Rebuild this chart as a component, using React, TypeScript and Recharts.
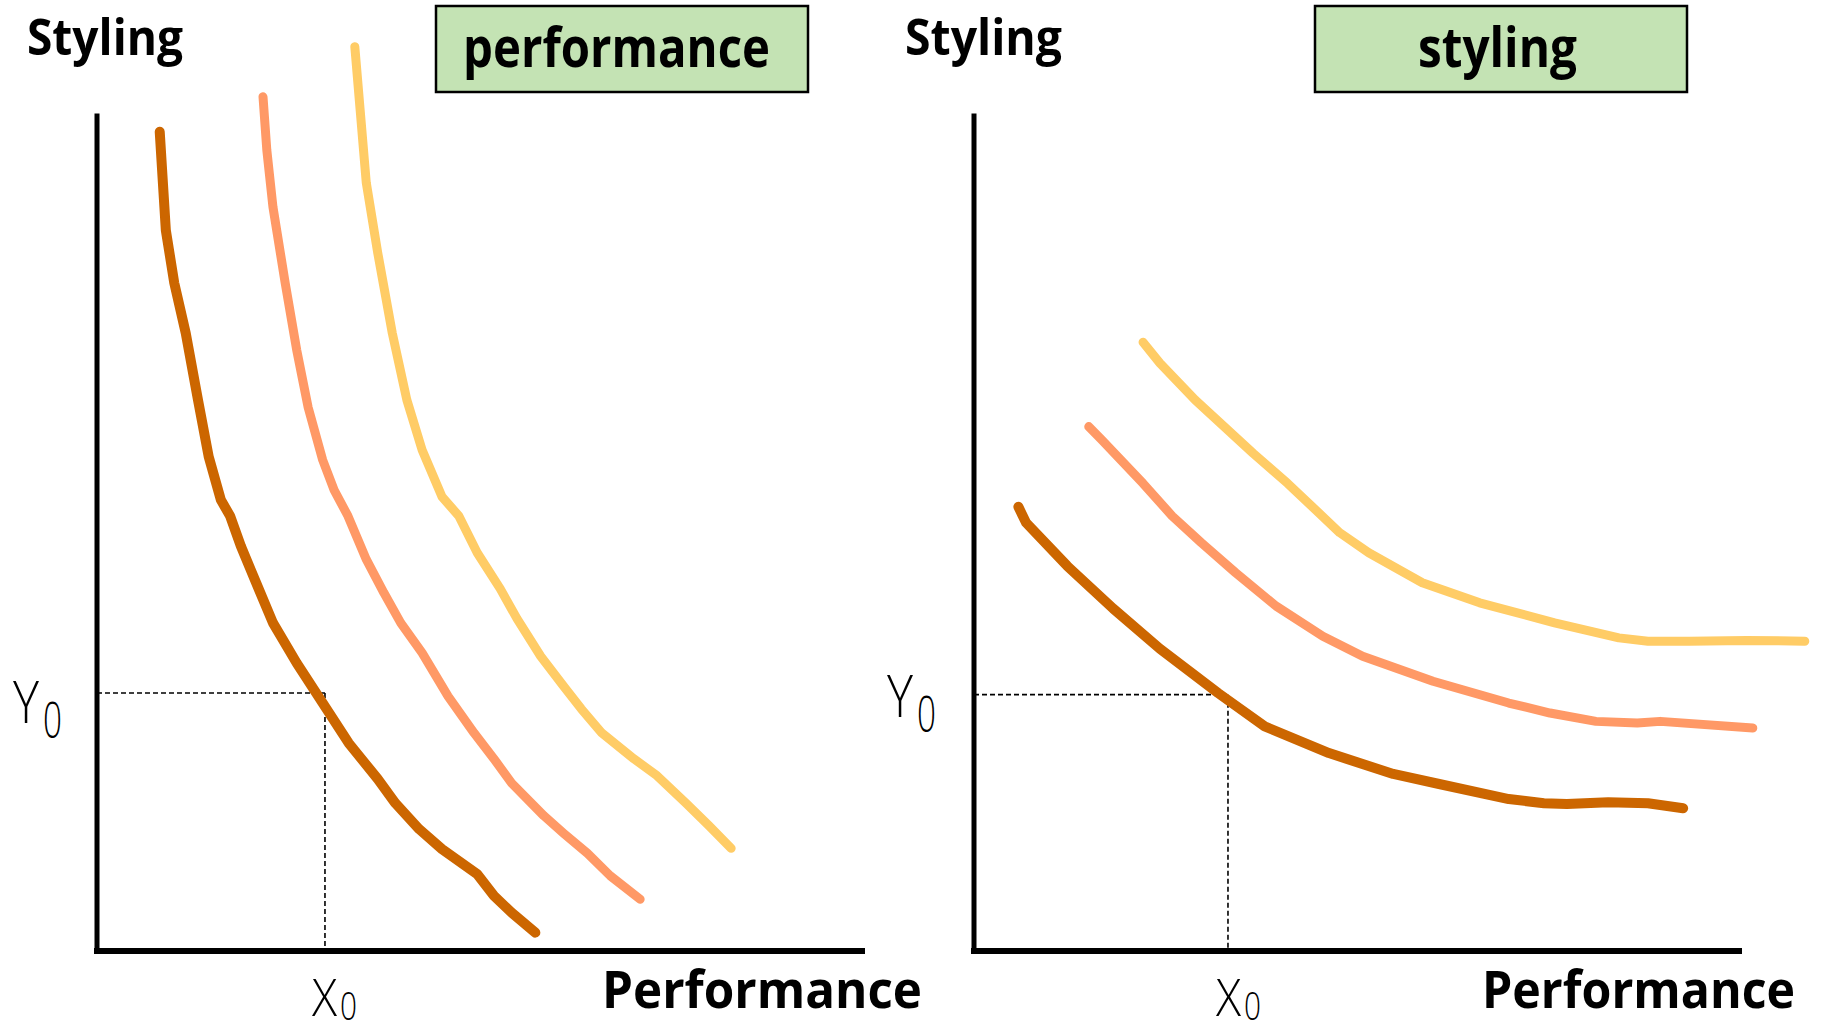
import { LineChart, Line, XAxis, YAxis, ReferenceLine, Customized } from "recharts";

// units: x = performance (0..10 along axis), y = styling (0..10 along axis)
// left panel, labelled "performance"
const perfLow = [
  [0.82, 9.81], [0.9, 8.63], [1.01, 8.0], [1.16, 7.4], [1.32, 6.6], [1.46, 5.92], [1.62, 5.4],
  [1.74, 5.21], [1.88, 4.85], [2.08, 4.41], [2.3, 3.93], [2.61, 3.45], [2.95, 2.97], [3.29, 2.49],
  [3.67, 2.06], [3.9, 1.77], [4.21, 1.46], [4.51, 1.22], [4.97, 0.92], [5.19, 0.66], [5.42, 0.46], [5.73, 0.22],
];
const perfMid = [
  [2.17, 10.23], [2.22, 9.59], [2.3, 8.91], [2.46, 8.0], [2.61, 7.2], [2.76, 6.51], [2.95, 5.88],
  [3.1, 5.52], [3.28, 5.21], [3.52, 4.69], [3.75, 4.29], [3.97, 3.93], [4.25, 3.57], [4.59, 3.05],
  [4.93, 2.61], [5.19, 2.3], [5.42, 2.01], [5.84, 1.62], [6.1, 1.41], [6.41, 1.17], [6.71, 0.9], [7.1, 0.62],
];
const perfHigh = [
  [3.37, 10.83], [3.44, 10.07], [3.52, 9.2], [3.67, 8.36], [3.86, 7.4], [4.05, 6.6], [4.25, 6.0],
  [4.51, 5.44], [4.73, 5.21], [4.97, 4.77], [5.27, 4.34], [5.49, 3.98], [5.8, 3.53], [6.1, 3.17],
  [6.33, 2.9], [6.6, 2.61], [7.02, 2.3], [7.32, 2.1], [7.7, 1.77], [8.0, 1.5], [8.29, 1.23],
];
const perfX0 = 2.98;
const perfY0 = 3.09;

// right panel, labelled "styling"
const styleLow = [
  [0.58, 5.32], [0.68, 5.13], [1.22, 4.61], [1.82, 4.1], [2.43, 3.62], [3.19, 3.09], [3.8, 2.69],
  [4.64, 2.37], [5.48, 2.12], [6.08, 2.0], [6.99, 1.82], [7.45, 1.77], [7.75, 1.76], [8.29, 1.78],
  [8.81, 1.77], [9.27, 1.71],
];
const styleMid = [
  [1.5, 6.28], [1.67, 6.12], [2.21, 5.6], [2.59, 5.21], [2.97, 4.89], [3.42, 4.53], [3.95, 4.13],
  [4.56, 3.77], [5.08, 3.53], [5.54, 3.38], [6.0, 3.23], [6.99, 2.97], [7.53, 2.85], [8.13, 2.75],
  [8.67, 2.73], [8.97, 2.75], [10.18, 2.67],
];
const styleHigh = [
  [2.21, 7.29], [2.43, 7.04], [2.89, 6.6], [3.27, 6.28], [3.65, 5.96], [4.1, 5.6], [4.55, 5.21],
  [4.78, 5.01], [5.16, 4.77], [5.86, 4.41], [6.61, 4.17], [7.59, 3.93], [8.43, 3.75], [8.81, 3.71],
  [9.35, 3.71], [10.1, 3.72], [10.86, 3.71],
];
const styleX0 = 3.32;
const styleY0 = 3.07;

const colors = ["#CC6600", "#FF9966", "#FFCC66"];
const widths = [10, 9, 9];

const toPoints = (arr: number[][]) => arr.map(([x, y]) => ({ x, y }));

const boldFont = "'Open Sans', 'DejaVu Sans', sans-serif";
const thinFont = "'Open Sans', sans-serif";

type LabelPos = {
  styling: number;
  stylingLen: number;
  boxX: number;
  boxText: string;
  boxTextX: number;
  boxTextLen: number;
  yX: number;
  yBase: number;
  xX: number;
  perfX: number;
  perfLen: number;
};

function Labels({ p }: { p: LabelPos }) {
  return (
    <g>
      <text x={p.styling} y={55} fontFamily={boldFont} fontWeight={700} fontSize={51} textLength={p.stylingLen} lengthAdjust="spacingAndGlyphs">
        Styling
      </text>
      <rect x={p.boxX} y={6} width={372} height={86} fill="#C4E3B4" stroke="#000" strokeWidth={2.5} />
      <text x={p.boxTextX} y={67} fontFamily={boldFont} fontWeight={700} fontSize={55} textLength={p.boxTextLen} lengthAdjust="spacingAndGlyphs">
        {p.boxText}
      </text>
      <text x={p.yX} y={p.yBase} fontFamily={thinFont} fontWeight={300} fontSize={59} textLength={26} lengthAdjust="spacingAndGlyphs">
        Y
      </text>
      <text x={p.yX + 30} y={p.yBase + 15} fontFamily={thinFont} fontWeight={300} fontSize={49} textLength={19} lengthAdjust="spacingAndGlyphs">
        0
      </text>
      <text x={p.xX} y={1016} fontFamily={thinFont} fontWeight={300} fontSize={51} textLength={25} lengthAdjust="spacingAndGlyphs">
        X
      </text>
      <text x={p.xX + 28} y={1020} fontFamily={thinFont} fontWeight={300} fontSize={39} textLength={17} lengthAdjust="spacingAndGlyphs">
        0
      </text>
      <text x={p.perfX} y={1008} fontFamily={boldFont} fontWeight={700} fontSize={52} textLength={p.perfLen} lengthAdjust="spacingAndGlyphs">
        Performance
      </text>
    </g>
  );
}

function Panel({
  curves,
  x0,
  y0,
  width,
  left,
  labels,
}: {
  curves: number[][][];
  x0: number;
  y0: number;
  width: number;
  left: number;
  labels: LabelPos;
}) {
  const plotW = 841.5;
  return (
    <LineChart width={width} height={1032} margin={{ top: 32.5, bottom: 81, left, right: width - left - plotW }}>
      <XAxis type="number" dataKey="x" domain={[0, 11]} allowDataOverflow hide />
      <YAxis type="number" dataKey="y" domain={[0, 11]} allowDataOverflow hide />
      <Customized component={<Labels p={labels} />} />
      <ReferenceLine segment={[{ x: 0, y: y0 }, { x: x0, y: y0 }]} stroke="#000" strokeWidth={1.6} strokeDasharray="5 3" ifOverflow="visible" />
      <ReferenceLine segment={[{ x: x0, y: y0 }, { x: x0, y: 0 }]} stroke="#000" strokeWidth={1.6} strokeDasharray="5 3" ifOverflow="visible" />
      <ReferenceLine segment={[{ x: 0, y: 0 }, { x: 0, y: 10 }]} stroke="#000" strokeWidth={5} strokeLinecap="square" ifOverflow="visible" />
      <ReferenceLine segment={[{ x: 0, y: 0 }, { x: 10, y: 0 }]} stroke="#000" strokeWidth={6} strokeLinecap="square" ifOverflow="visible" />
      {curves.map((c, i) => (
        <Line
          key={i}
          data={toPoints(c)}
          dataKey="y"
          type="linear"
          stroke={colors[i]}
          strokeWidth={widths[i]}
          strokeLinecap="round"
          strokeLinejoin="round"
          dot={false}
          activeDot={false}
          isAnimationActive={false}
        />
      ))}
    </LineChart>
  );
}

export default function App() {
  return (
    <div style={{ position: "absolute", left: 0, top: 0, width: 1821, height: 1032, background: "#fff", overflow: "hidden" }}>
      <div style={{ position: "absolute", left: 0, top: 0 }}>
        <Panel
          curves={[perfLow, perfMid, perfHigh]}
          x0={perfX0}
          y0={perfY0}
          width={960}
          left={97}
          labels={{
            styling: 27, stylingLen: 156, boxX: 436, boxText: "performance", boxTextX: 463, boxTextLen: 307,
            yX: 13, yBase: 723, xX: 312, perfX: 602, perfLen: 320,
          }}
        />
      </div>
      <div style={{ position: "absolute", left: 870, top: 0 }}>
        <Panel
          curves={[styleLow, styleMid, styleHigh]}
          x0={styleX0}
          y0={styleY0}
          width={951}
          left={104}
          labels={{
            styling: 35, stylingLen: 157, boxX: 445, boxText: "styling", boxTextX: 548, boxTextLen: 159,
            yX: 17, yBase: 717, xX: 346, perfX: 612, perfLen: 313,
          }}
        />
      </div>
    </div>
  );
}
